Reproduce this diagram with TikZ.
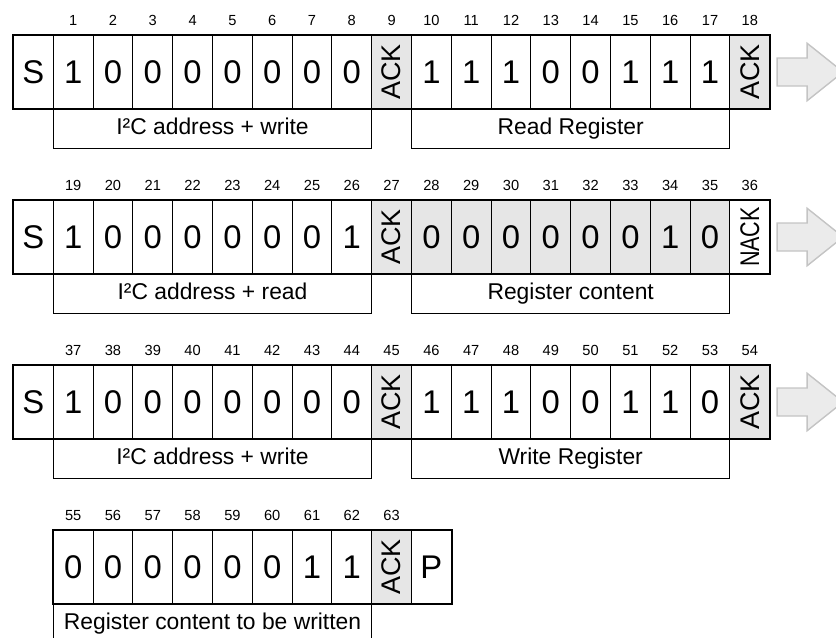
\documentclass[tikz,border=0pt]{standalone}
\usepackage{fontspec}
\setmainfont{Liberation Sans}
\usepackage{tikz}
\usetikzlibrary{calc}
\definecolor{clShade}{HTML}{E6E6E6}
\definecolor{clArrow}{HTML}{EBEBEB}
\definecolor{clArrowLine}{HTML}{C4C4C4}
\newcommand{\vtext}[1]{\rotatebox{90}{#1}}
\tikzset{
  bitcell/.style={rectangle, draw, line width=0.8pt, inner sep=0pt,
                  minimum width=1.194cm, minimum height=2.19cm,
                  font=\fontsize{28}{28}\selectfont},
  blank/.style={bitcell},
  shaded/.style={bitcell, fill=clShade},
  ackcell/.style={bitcell, fill=clShade, font=\fontsize{23}{23}\selectfont},
  nackcell/.style={bitcell, font=\fontsize{23}{23}\selectfont},
  bitnum/.style={inner sep=0pt, text height=9pt, text depth=0pt,
                 font=\fontsize{12.5}{12.5}\selectfont},
  fieldbox/.style={rectangle, draw, line width=0.8pt, inner sep=0pt, anchor=north west,
                   minimum width=9.552cm, minimum height=1.17cm,
                   text height=14pt, text depth=4pt,
                   font=\fontsize{19.5}{19.5}\selectfont},
  rowframe/.style={draw, line width=2pt},
  seqarrow/.style={draw=clArrowLine, fill=clArrow, line width=1.2pt},
}

\begin{document}
\begin{tikzpicture}[x=0.03cm, y=-0.03cm]
  \useasboundingbox (0,0) rectangle (836,637);
  \clip (0,0) rectangle (836,637);

  % write: address + register pointer
  \foreach \n in {1,...,18}
    \node[bitnum] at ({13.5+(\n+0.5)*39.8},20) {\n};
  \foreach \t/\s [count=\c from 0] in {S/blank,1/blank,0/blank,0/blank,0/blank,0/blank,0/blank,0/blank,0/blank,\vtext{ACK}/ackcell,
      1/blank,1/blank,1/blank,0/blank,0/blank,1/blank,1/blank,1/blank,\vtext{ACK}/ackcell}
    \node[\s] (ra\c) at ({13.5+(\c+0.5)*39.8},72) {\t};
  \node[fieldbox] (fa1) at (ra1.south west) {I²C address + write};
  \node[fieldbox] (fa2) at (ra10.south west) {Read Register};
  \draw[rowframe] (ra0.north west) rectangle (ra18.south east);
  \draw[seqarrow] ($(ra18.east)+(7,-14)$) -- ++(30,0) -- ++(0,-14.7) -- ++(36,28.7)
    -- ++(-36,28.7) -- ++(0,-14.7) -- ++(-30,0) -- cycle;

  % read: register content
  \foreach \n [count=\c] in {19,...,36}
    \node[bitnum] at ({13.5+(\c+0.5)*39.8},185) {\n};
  \foreach \t/\s [count=\c from 0] in {S/blank,1/blank,0/blank,0/blank,0/blank,0/blank,0/blank,0/blank,1/blank,\vtext{ACK}/ackcell,
      0/shaded,0/shaded,0/shaded,0/shaded,0/shaded,0/shaded,1/shaded,0/shaded,\vtext{\scalebox{0.8}[1]{NACK}}/nackcell}
    \node[\s] (rb\c) at ({13.5+(\c+0.5)*39.8},237) {\t};
  \node[fieldbox] (fb1) at (rb1.south west) {I²C address + read};
  \node[fieldbox] (fb2) at (rb10.south west) {Register content};
  \draw[rowframe] (rb0.north west) rectangle (rb18.south east);
  \draw[seqarrow] ($(rb18.east)+(7,-14)$) -- ++(30,0) -- ++(0,-14.7) -- ++(36,28.7)
    -- ++(-36,28.7) -- ++(0,-14.7) -- ++(-30,0) -- cycle;

  % write: register pointer
  \foreach \n [count=\c] in {37,...,54}
    \node[bitnum] at ({13.5+(\c+0.5)*39.8},350) {\n};
  \foreach \t/\s [count=\c from 0] in {S/blank,1/blank,0/blank,0/blank,0/blank,0/blank,0/blank,0/blank,0/blank,\vtext{ACK}/ackcell,
      1/blank,1/blank,1/blank,0/blank,0/blank,1/blank,1/blank,0/blank,\vtext{ACK}/ackcell}
    \node[\s] (rc\c) at ({13.5+(\c+0.5)*39.8},402) {\t};
  \node[fieldbox] (fc1) at (rc1.south west) {I²C address + write};
  \node[fieldbox] (fc2) at (rc10.south west) {Write Register};
  \draw[rowframe] (rc0.north west) rectangle (rc18.south east);
  \draw[seqarrow] ($(rc18.east)+(7,-14)$) -- ++(30,0) -- ++(0,-14.7) -- ++(36,28.7)
    -- ++(-36,28.7) -- ++(0,-14.7) -- ++(-30,0) -- cycle;

  % data byte + stop
  \foreach \n [count=\c] in {55,...,63}
    \node[bitnum] at ({13.5+(\c+0.5)*39.8},515) {\n};
  \foreach \t/\s [count=\c] in {0/blank,0/blank,0/blank,0/blank,0/blank,0/blank,1/blank,1/blank,\vtext{ACK}/ackcell,P/blank}
    \node[\s] (rd\c) at ({13.5+(\c+0.5)*39.8},567) {\t};
  \node[fieldbox] (fd1) at (rd1.south west) {Register content to be written};
  \draw[rowframe] (rd1.north west) rectangle (rd10.south east);
\end{tikzpicture}
\end{document}
